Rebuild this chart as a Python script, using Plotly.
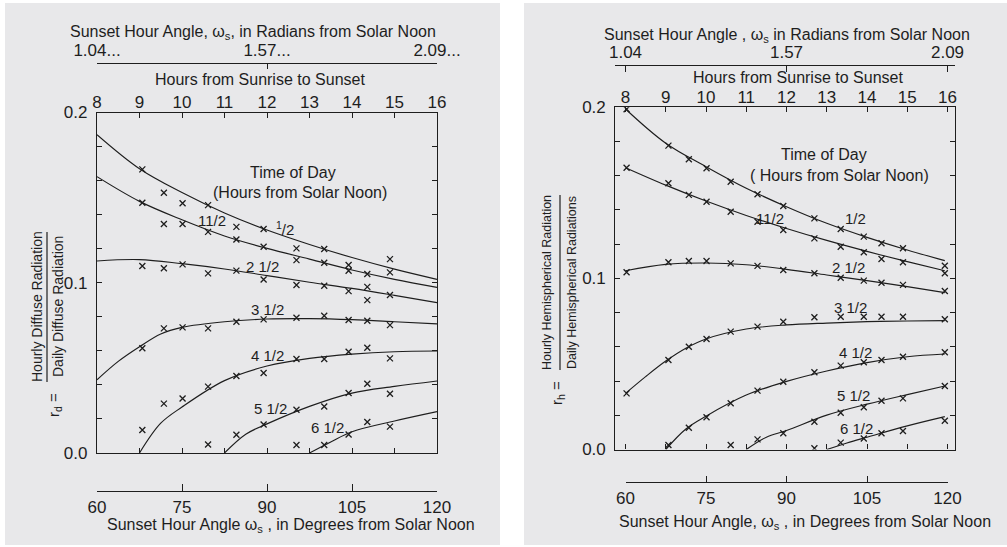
import numpy as np
import plotly.graph_objects as go

W, H = 1007, 547
INK = "#1e1e1e"
PAGE = "#e8e8ea"
FONT = "Liberation Sans, Arial, sans-serif"

# ---------------------------------------------------------------- data ----
# Sunset hour angle (degrees) at which the model curves are tabulated
OMEGA = [60, 67.5, 75, 82.5, 90, 97.5, 105, 112.5, 120]
OMEGA_R = [60, 67.5, 75, 82.5, 90, 97.5, 105, 112.5, 119.5]

# Sunset hour angle of each measuring station (degrees)
STATIONS = [60.2, 68.0, 71.8, 75.1, 79.6, 84.6, 89.4, 95.2, 100.1, 104.4, 107.7, 111.7, 119.5]

HOUR_TICKS = [8, 9, 10, 11, 12, 13, 14, 15, 16]
DEG_TICKS = [60, 75, 90, 105, 120]
RAD_TICKS = [np.pi / 3, np.pi / 2, 2 * np.pi / 3]
RAD_LABELS_L = ["1.04...", "1.57...", "2.09..."]
RAD_LABELS_R = ["1.04", "1.57", "2.09"]
Y_TICKS = [0, 0.1, 0.2]
Y_LABELS = ["0.0", "0.1", "0.2"]
Y_MINOR = [0.02, 0.04, 0.06, 0.08, 0.12, 0.14, 0.16, 0.18]

# r_d : hourly / daily diffuse radiation, model curves
RD_HALF = [0.187, 0.167, 0.153, 0.141, 0.131, 0.1225, 0.1148, 0.108, 0.102]
RD_1HALF = [0.1623, 0.1478, 0.137, 0.1275, 0.1202, 0.1139, 0.1075, 0.102, 0.0973]
RD_2HALF = [0.1128, 0.1136, 0.1112, 0.1081, 0.1042, 0.1003, 0.0967, 0.0926, 0.0883]
RD_3HALF_OMEGA = [60, 63.75, 67.5, 71.25, 75, 82.5, 90, 97.5, 105, 112.5, 120]
RD_3HALF = [0.043, 0.0538, 0.0624, 0.0699, 0.0738, 0.0771, 0.0787, 0.0789, 0.0783, 0.0771, 0.0758]
RD_4HALF_OMEGA = [67.5, 71.25, 75, 82.5, 90, 97.5, 105, 112.5, 120]
RD_4HALF = [0, 0.0175, 0.027, 0.0425, 0.0511, 0.0556, 0.0581, 0.0595, 0.0599]
RD_5HALF_OMEGA = [82.5, 86.25, 90, 97.5, 105, 112.5, 120]
RD_5HALF = [0, 0.011, 0.0171, 0.0274, 0.0352, 0.0391, 0.0423]
RD_6HALF_OMEGA = [97.5, 101.25, 105, 112.5, 120]
RD_6HALF = [0, 0.0065, 0.0125, 0.0188, 0.0243]

# r_d : station data
RD_PTS_HALF = [None, 0.1666, 0.1529, 0.1467, 0.1456, 0.1328, 0.1316, 0.1202, 0.1198, 0.1104, 0.1051, 0.1139, None]
RD_PTS_1HALF = [None, 0.147, 0.1345, 0.1345, 0.1299, 0.1254, 0.1211, 0.1133, 0.1117, 0.107, 0.0976, 0.1061, None]
RD_PTS_2HALF = [None, 0.1098, 0.1085, 0.1108, 0.1055, 0.1071, 0.1019, 0.0987, 0.0982, 0.0951, 0.0898, 0.0928, None]
RD_PTS_3HALF = [None, 0.0615, 0.0732, 0.0738, 0.0732, 0.0771, 0.0785, 0.0794, 0.0806, 0.0781, 0.0777, 0.0751, None]
RD_PTS_4HALF = [None, 0.0135, 0.029, 0.032, 0.039, 0.0452, 0.047, 0.0552, 0.0552, 0.0595, 0.0618, 0.0556, None]
RD_PTS_5HALF = [None, None, None, None, 0.005, 0.0107, 0.0167, 0.0254, 0.0273, 0.0352, 0.0407, 0.0348, None]
RD_PTS_6HALF = [None, None, None, None, None, None, None, 0.0047, 0.0047, 0.0109, 0.0182, 0.0155, None]

# r_h : hourly / daily hemispherical radiation, model curves
RH_HALF = [0.199, 0.179, 0.1653, 0.1527, 0.1419, 0.1322, 0.124, 0.1166, 0.1104]
RH_1HALF = [0.1647, 0.1545, 0.1452, 0.1368, 0.1292, 0.1222, 0.1158, 0.1098, 0.1045]
RH_2HALF = [0.1045, 0.1082, 0.109, 0.108, 0.1053, 0.102, 0.0987, 0.0952, 0.0917]
RH_3HALF_OMEGA = [60, 63.75, 67.5, 71.25, 75, 82.5, 90, 97.5, 105, 112.5, 119.5]
RH_3HALF = [0.0328, 0.0426, 0.0517, 0.0592, 0.0646, 0.0704, 0.0728, 0.0739, 0.0747, 0.0751, 0.0753]
RH_4HALF_OMEGA = [67.5, 71.25, 75, 82.5, 90, 97.5, 105, 112.5, 119.5]
RH_4HALF = [0, 0.012, 0.0195, 0.0318, 0.0398, 0.0459, 0.0508, 0.0542, 0.0558]
RH_5HALF_OMEGA = [82.5, 86.25, 90, 97.5, 105, 112.5, 119.5]
RH_5HALF = [0, 0.0072, 0.0111, 0.0201, 0.0265, 0.0321, 0.0371]
RH_6HALF_OMEGA = [97.5, 101.25, 105, 112.5, 119.5]
RH_6HALF = [0, 0.0038, 0.0072, 0.0138, 0.0192]

# r_h : station data
RH_PTS_HALF = [0.1989, 0.1776, 0.1696, 0.1644, 0.1565, 0.1492, 0.1423, 0.1351, 0.1289, 0.1244, 0.1205, 0.1176, 0.1074]
RH_PTS_1HALF = [0.1647, 0.1556, 0.1488, 0.1448, 0.139, 0.1331, 0.1283, 0.1234, 0.1185, 0.1153, 0.1113, 0.1094, 0.103]
RH_PTS_2HALF = [0.1036, 0.1094, 0.1102, 0.1102, 0.1088, 0.1073, 0.1049, 0.103, 0.1004, 0.0987, 0.0975, 0.0962, 0.0926]
RH_PTS_3HALF = [0.0328, 0.0523, 0.0601, 0.0646, 0.0689, 0.0718, 0.0747, 0.0773, 0.0776, 0.0776, 0.0776, 0.0776, 0.0761]
RH_PTS_4HALF = [None, 0.0026, 0.0127, 0.0188, 0.027, 0.0344, 0.0396, 0.0451, 0.049, 0.051, 0.0523, 0.0542, 0.0568]
RH_PTS_5HALF = [None, None, None, None, 0.0026, 0.0059, 0.0095, 0.0162, 0.0215, 0.0247, 0.0285, 0.0299, 0.0371]
RH_PTS_6HALF = [None, None, None, None, None, None, None, 0.0007, 0.004, 0.0064, 0.0095, 0.0108, 0.0168]

LEFT_CURVES = [
    (OMEGA, RD_HALF), (OMEGA, RD_1HALF), (OMEGA, RD_2HALF),
    (RD_3HALF_OMEGA, RD_3HALF), (RD_4HALF_OMEGA, RD_4HALF),
    (RD_5HALF_OMEGA, RD_5HALF), (RD_6HALF_OMEGA, RD_6HALF),
]
LEFT_POINTS = [RD_PTS_HALF, RD_PTS_1HALF, RD_PTS_2HALF, RD_PTS_3HALF,
               RD_PTS_4HALF, RD_PTS_5HALF, RD_PTS_6HALF]
RIGHT_CURVES = [
    (OMEGA_R, RH_HALF), (OMEGA_R, RH_1HALF), (OMEGA_R, RH_2HALF),
    (RH_3HALF_OMEGA, RH_3HALF), (RH_4HALF_OMEGA, RH_4HALF),
    (RH_5HALF_OMEGA, RH_5HALF), (RH_6HALF_OMEGA, RH_6HALF),
]
RIGHT_POINTS = [RH_PTS_HALF, RH_PTS_1HALF, RH_PTS_2HALF, RH_PTS_3HALF,
                RH_PTS_4HALF, RH_PTS_5HALF, RH_PTS_6HALF]


# ------------------------------------------------------------- helpers ----
def fx(px):
    return px / W


def fy(py):
    return 1 - py / H


fig = go.Figure()


def add_panel(curves, points, xa, ya):
    for xs, ys in curves:
        fig.add_trace(go.Scatter(
            x=xs, y=ys, xaxis=xa, yaxis=ya, mode="lines",
            line=dict(color=INK, width=1.15, shape="spline", smoothing=1.0),
            hoverinfo="skip", showlegend=False))
    for ys in points:
        fig.add_trace(go.Scatter(
            x=STATIONS, y=ys, xaxis=xa, yaxis=ya, mode="markers",
            marker=dict(symbol="x-thin", size=6, line=dict(color=INK, width=1.3)),
            hoverinfo="skip", showlegend=False))


add_panel(LEFT_CURVES, LEFT_POINTS, "x", "y")
add_panel(RIGHT_CURVES, RIGHT_POINTS, "x5", "y2")

# empty traces so that every auxiliary scale is instantiated
for xa, ya, xs in [("x2", "y", HOUR_TICKS), ("x3", "y", RAD_TICKS), ("x4", "y", DEG_TICKS),
                   ("x6", "y2", HOUR_TICKS), ("x7", "y2", RAD_TICKS), ("x8", "y2", DEG_TICKS)]:
    fig.add_trace(go.Scatter(x=xs, y=[None] * len(xs), xaxis=xa, yaxis=ya, mode="lines",
                             hoverinfo="skip", showlegend=False))

tickfont = dict(family=FONT, size=17, color=INK)
frame = dict(showline=True, linecolor=INK, linewidth=1.2, mirror="ticks", ticks="inside",
             tickcolor=INK, tickwidth=1.1, ticklen=5, showgrid=False, zeroline=False,
             fixedrange=True, automargin=False)
plain = dict(showgrid=False, zeroline=False, fixedrange=True, tickfont=tickfont,
             linecolor=INK, linewidth=1.2, tickcolor=INK, tickwidth=1.1, automargin=False)
minor = dict(tickvals=Y_MINOR, ticks="inside", ticklen=5, tickcolor=INK, tickwidth=1.1,
             showgrid=False)

# right frame spans slightly more than 60-120 degrees
R0, R1 = 58.1, 121.34

fig.update_layout(
    template="none",
    width=W, height=H,
    margin=dict(l=0, r=0, t=0, b=0, pad=0),
    paper_bgcolor="white",
    plot_bgcolor="rgba(0,0,0,0)",
    font=dict(family=FONT, color=INK, size=16),
    # left panel ---------------------------------------------------------
    xaxis=dict(**frame, domain=[fx(97), fx(437)], range=[60, 120], anchor="y",
               tick0=60, dtick=7.5, showticklabels=False),
    yaxis=dict(**frame, domain=[fy(453), fy(112.5)], range=[0, 0.2], anchor="x",
               tickvals=Y_TICKS, ticktext=Y_LABELS, tickfont=tickfont,
               ticklabelstandoff=5, minor=minor),
    xaxis2=dict(**plain, overlaying="x", anchor="y", side="top", range=[8, 16],
                tickvals=HOUR_TICKS, ticks="", showline=False),
    xaxis3=dict(**plain, overlaying="x", anchor="free", position=fy(63), side="top",
                range=[np.pi / 3, 2 * np.pi / 3], tickvals=RAD_TICKS, ticktext=RAD_LABELS_L,
                showline=True, ticks="inside", ticklen=5),
    xaxis4=dict(**plain, overlaying="x", anchor="free", position=fy(491), side="bottom",
                range=[60, 120], tickvals=DEG_TICKS, showline=True, ticks="inside",
                ticklen=7),
    # right panel --------------------------------------------------------
    xaxis5=dict(**frame, domain=[fx(615.3), fx(954.7)], range=[R0, R1], anchor="y2",
                tick0=60, dtick=7.5, showticklabels=False),
    yaxis2=dict(**frame, domain=[fy(449.5), fy(107.3)], range=[0, 0.2], anchor="x5",
                tickvals=Y_TICKS, ticktext=Y_LABELS, tickfont=tickfont,
                ticklabelstandoff=5, minor=minor),
    xaxis6=dict(**plain, overlaying="x5", anchor="y2", side="top",
                range=[(R0 - 60) / 7.5 + 8, (R1 - 60) / 7.5 + 8],
                tickvals=HOUR_TICKS, ticks="", showline=False),
    xaxis7=dict(**plain, overlaying="x5", anchor="free", position=fy(65), side="top",
                range=[np.deg2rad(R0), np.deg2rad(R1)], tickvals=RAD_TICKS,
                ticktext=RAD_LABELS_R, showline=True, ticks="inside", ticklen=6),
    xaxis8=dict(**plain, domain=[fx(625.5), fx(947.5)], anchor="free", position=fy(482),
                side="bottom", range=[60, 120], tickvals=DEG_TICKS, showline=True,
                ticks="inside", ticklen=6),
)

# page backgrounds and the fraction bars of the y titles
shapes = [
    dict(type="rect", xref="paper", yref="paper", x0=fx(5), x1=fx(500), y0=fy(545), y1=fy(3),
         fillcolor=PAGE, line=dict(width=0), layer="below"),
    dict(type="rect", xref="paper", yref="paper", x0=fx(524), x1=1, y0=fy(545), y1=fy(3),
         fillcolor=PAGE, line=dict(width=0), layer="below"),
    dict(type="line", xref="paper", yref="paper", x0=fx(47), x1=fx(47), y0=fy(382), y1=fy(232),
         line=dict(color=INK, width=1.2)),
    dict(type="line", xref="paper", yref="paper", x0=fx(560), x1=fx(560), y0=fy(370), y1=fy(195),
         line=dict(color=INK, width=1.2)),
]
fig.update_layout(shapes=shapes)


def label(text, x, y, size=16, angle=0):
    fig.add_annotation(text=text, x=fx(x), y=fy(y), xref="paper", yref="paper",
                       showarrow=False, xanchor="center", yanchor="middle",
                       textangle=angle, font=dict(family=FONT, size=size, color=INK))


# left panel texts
label("Sunset Hour Angle, ω<sub>s</sub>, in Radians from Solar Noon", 253, 33)
label("Hours from Sunrise to Sunset", 260, 80)
label("Time of Day", 293, 172)
label("(Hours from Solar Noon)", 300, 193)
label("11/2", 212, 220, 15)
label("<sup>1</sup>/2", 285, 228, 15)
label("2 1/2", 262, 266, 15)
label("3 1/2", 267, 309, 15)
label("4 1/2", 267, 355, 15)
label("5 1/2", 270, 408, 15)
label("6 1/2", 327, 427, 15)
label("Hourly Diffuse Radiation", 37, 307, 14, -90)
label("Daily Diffuse Radiation", 58, 307, 14, -90)
label("r<sub>d</sub> =", 54, 405, 15, -90)
label("Sunset Hour Angle ω<sub>s</sub> , in Degrees from Solar Noon", 291, 525)

# right panel texts
label("Sunset Hour Angle , ω<sub>s</sub> in Radians from Solar Noon", 787, 35)
label("Hours from Sunrise to Sunset", 798, 77)
label("Time of Day", 824, 155)
label("( Hours from Solar Noon)", 839, 175)
label("11/2", 770, 218, 15)
label("1/2", 855, 218, 15)
label("2 1/2", 848, 268, 15)
label("3 1/2", 850, 307, 15)
label("4 1/2", 855, 352, 15)
label("5 1/2", 853, 395, 15)
label("6 1/2", 856, 428, 15)
label("Hourly Hemispherical Radiation", 547, 283, 12.5, -90)
label("Daily Hemispherical Radiations", 572, 283, 12.5, -90)
label("r<sub>h</sub> =", 557, 393, 15, -90)
label("Sunset Hour Angle, ω<sub>s</sub> , in Degrees from Solar Noon", 805, 522)

fig.write_html("out.html")
